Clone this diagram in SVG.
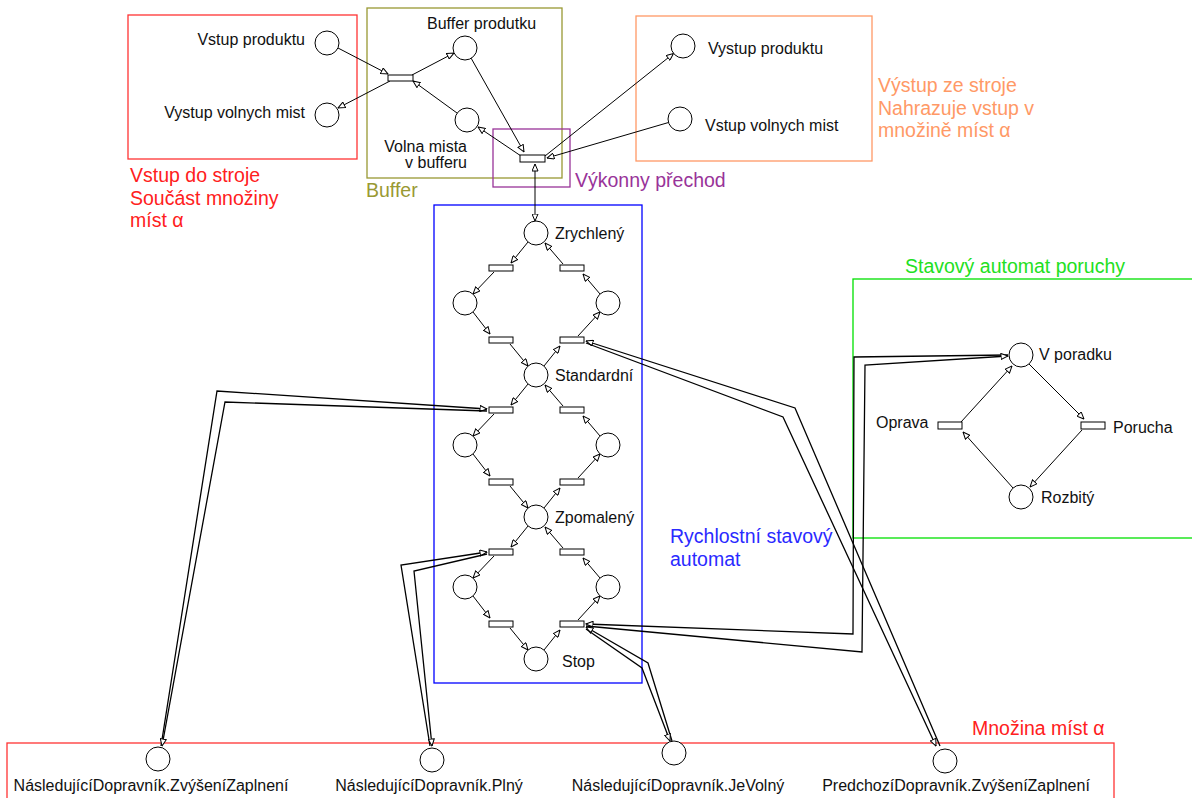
<svg xmlns="http://www.w3.org/2000/svg" width="1192" height="798" viewBox="0 0 1192 798">
<style>
text{font-family:"Liberation Sans",Arial,sans-serif;font-size:16px;fill:#111}
.big{font-size:19.5px}
.pl{fill:#fff;stroke:#000;stroke-width:1}
.tr{fill:#fff;stroke:#000;stroke-width:1}
.arc{fill:none;stroke:#000;stroke-width:1;marker-end:url(#ah)}
.dbl{fill:none;stroke:#000;stroke-width:1.3;marker-end:url(#ah)}
.fr{fill:none;stroke-width:1.3}
</style>
<defs>
<marker id="ah" viewBox="0 0 8 7" refX="7.5" refY="3.5" markerWidth="8" markerHeight="7" markerUnits="userSpaceOnUse" orient="auto-start-reverse">
<path d="M0.5,0.5 L7.5,3.5 L0.5,6.5 z" fill="#fff" stroke="#000" stroke-width="1"/>
</marker>
</defs>
<rect width="1192" height="798" fill="#fff"/>

<g id="frames">
<rect class="fr" x="128" y="15" width="229" height="144" stroke="#ff3333"/>
<text class="big" x="130" y="182" style="fill:#ff2020">Vstup do stroje</text>
<text class="big" x="130" y="204.5" style="fill:#ff2020">Součást množiny</text>
<text class="big" x="130" y="227" style="fill:#ff2020">míst α</text>
<rect class="fr" x="367" y="8" width="195" height="170" stroke="#999933"/>
<text class="big" x="366" y="197" style="fill:#999933">Buffer</text>
<rect class="fr" x="493" y="129" width="77" height="58" stroke="#993399"/>
<text class="big" x="575" y="187" style="fill:#993399">Výkonny přechod</text>
<rect class="fr" x="636" y="16" width="236" height="145" stroke="#ff9966"/>
<text class="big" x="878" y="92" style="fill:#ff9966">Výstup ze stroje</text>
<text class="big" x="878" y="115" style="fill:#ff9966">Nahrazuje vstup v</text>
<text class="big" x="878" y="137" style="fill:#ff9966">množině míst α</text>
<rect class="fr" x="434" y="205" width="208" height="478" stroke="#0000ff"/>
<text class="big" x="670" y="543" style="fill:#2a2aff">Rychlostní stavový</text>
<text class="big" x="670" y="566" style="fill:#2a2aff">automat</text>
<rect class="fr" x="853" y="279" width="400" height="259" stroke="#00e000"/>
<text class="big" x="905" y="273" style="fill:#22e022">Stavový automat poruchy</text>
<rect class="fr" x="7" y="743" width="1107" height="80" stroke="#ff3333"/>
<text class="big" x="972" y="735" style="fill:#ff2020">Množina míst α</text>
</g>

<g id="connectors">
<path class="arc" d="M338,48 L388,74"/>
<path class="arc" d="M390,81 L338,108"/>
<path class="arc" d="M412,75 L454,53"/>
<path class="arc" d="M457,113 L413,81"/>
<path class="arc" d="M471,58 L524,152"/>
<path class="arc" d="M521,156 L478,127"/>
<path class="arc" d="M545,156 L673.5,53.5"/>
<path class="arc" d="M668.5,122.5 L547,158"/>
<path class="arc" d="M535,164 L535,221" style="marker-start:url(#ah)"/>
<path class="arc" d="M528,242 L511,263"/>
<path class="arc" d="M494,272 L473,294"/>
<path class="arc" d="M473,312 L490,334"/>
<path class="arc" d="M510,344 L528,366"/>
<path class="arc" d="M544,366 L560,346"/>
<path class="arc" d="M578,336 L600,312"/>
<path class="arc" d="M600,294 L583,274"/>
<path class="arc" d="M563,264 L545,243"/>
<path class="arc" d="M528,384 L511,405"/>
<path class="arc" d="M494,414 L473,436"/>
<path class="arc" d="M473,454 L490,476"/>
<path class="arc" d="M510,486 L528,508"/>
<path class="arc" d="M544,508 L560,488"/>
<path class="arc" d="M578,478 L600,454"/>
<path class="arc" d="M600,436 L583,416"/>
<path class="arc" d="M563,406 L545,385"/>
<path class="arc" d="M528,526 L511,547"/>
<path class="arc" d="M494,556 L473,578"/>
<path class="arc" d="M473,596 L490,618"/>
<path class="arc" d="M510,628 L528,650"/>
<path class="arc" d="M544,650 L560,630"/>
<path class="arc" d="M578,620 L600,596"/>
<path class="arc" d="M600,578 L583,558"/>
<path class="arc" d="M563,548 L545,527"/>
<path class="arc" d="M1029,364 L1084,419"/>
<path class="arc" d="M1082,430 L1030,487"/>
<path class="arc" d="M1013,488 L963,432"/>
<path class="arc" d="M961,422 L1012,366"/>
<path class="dbl" d="M161,746 L217,391 L487,409"/>
<path class="dbl" d="M487,411 L225,402 L162,746"/>
<path class="dbl" d="M430,746 L401,565 L487,552"/>
<path class="dbl" d="M487,554 L414,571 L432,746"/>
<path class="dbl" d="M940,746 L795,408 L586,341"/>
<path class="dbl" d="M586,343 L783,417 L936,746"/>
<path class="dbl" d="M1008,355 L854,357 L853,634 L586,624"/>
<path class="dbl" d="M586,626 L862,652 L865,365 L1008,356"/>
<path class="dbl" d="M672,741 L648,663 L586,627"/>
<path class="dbl" d="M586,629 L642,668 L670,741"/>
</g>

<g id="in_vstup_produktu"><circle class="pl" cx="327" cy="43" r="12"/><text x="305" y="45" text-anchor="end">Vstup produktu</text></g>
<g id="in_vystup_volnych"><circle class="pl" cx="327" cy="115" r="12"/><text x="305" y="118" text-anchor="end">Vystup volnych mist</text></g>
<g id="t_buffer"><rect class="tr" x="388" y="75" width="25" height="6"/></g>
<g id="buffer_produktu"><circle class="pl" cx="465" cy="48" r="12"/><text x="427" y="29">Buffer produtku</text></g>
<g id="volna_mista"><circle class="pl" cx="467" cy="120" r="12"/><text x="467" y="152" text-anchor="end">Volna mista</text><text x="467" y="168" text-anchor="end">v bufferu</text></g>
<g id="t_vykonny"><rect class="tr" x="520" y="155" width="25" height="7"/></g>
<g id="out_vystup_produktu"><circle class="pl" cx="683" cy="46" r="12"/><text x="708" y="54">Vystup produktu</text></g>
<g id="out_vstup_volnych"><circle class="pl" cx="680" cy="119" r="12"/><text x="705" y="131">Vstup volnych mist</text></g>

<g id="zrychleny"><circle class="pl" cx="536" cy="233" r="12"/><text x="555" y="239">Zrychlený</text></g>
<g id="standardni"><circle class="pl" cx="536" cy="375" r="12"/><text x="555" y="381">Standardní</text></g>
<g id="zpomaleny"><circle class="pl" cx="536" cy="517" r="12"/><text x="555" y="523">Zpomalený</text></g>
<g id="stop"><circle class="pl" cx="536" cy="659" r="12"/><text x="562" y="667">Stop</text></g>

<g id="c1"><rect class="tr" x="489" y="265" width="24" height="6"/><rect class="tr" x="560" y="265" width="24" height="6"/><circle class="pl" cx="465" cy="303" r="12"/><circle class="pl" cx="608" cy="303" r="12"/><rect class="tr" x="489" y="337" width="24" height="6"/><rect class="tr" x="560" y="337" width="24" height="6"/></g>
<g id="c2"><rect class="tr" x="489" y="407" width="24" height="6"/><rect class="tr" x="560" y="407" width="24" height="6"/><circle class="pl" cx="465" cy="445" r="12"/><circle class="pl" cx="608" cy="445" r="12"/><rect class="tr" x="489" y="479" width="24" height="6"/><rect class="tr" x="560" y="479" width="24" height="6"/></g>
<g id="c3"><rect class="tr" x="489" y="549" width="24" height="6"/><rect class="tr" x="560" y="549" width="24" height="6"/><circle class="pl" cx="465" cy="587" r="12"/><circle class="pl" cx="608" cy="587" r="12"/><rect class="tr" x="489" y="621" width="24" height="6"/><rect class="tr" x="560" y="621" width="24" height="6"/></g>

<g id="v_poradku"><circle class="pl" cx="1021" cy="355" r="12"/><text x="1039" y="360">V poradku</text></g>
<g id="oprava"><rect class="tr" x="938" y="422" width="24" height="7"/><text x="876" y="428">Oprava</text></g>
<g id="porucha"><rect class="tr" x="1081" y="422" width="24" height="7"/><text x="1113" y="433">Porucha</text></g>
<g id="rozbity"><circle class="pl" cx="1021" cy="497" r="12"/><text x="1041" y="503">Rozbitý</text></g>

<g id="alpha1"><circle class="pl" cx="158" cy="759" r="12"/><text x="151" y="791" text-anchor="middle">NásledujícíDopravník.ZvýšeníZaplnení</text></g>
<g id="alpha2"><circle class="pl" cx="432" cy="760" r="12"/><text x="429" y="791" text-anchor="middle">NásledujícíDopravník.Plný</text></g>
<g id="alpha3"><circle class="pl" cx="674" cy="753" r="12"/><text x="678" y="791" text-anchor="middle">NásledujícíDopravník.JeVolný</text></g>
<g id="alpha4"><circle class="pl" cx="945" cy="761" r="12"/><text x="956" y="791" text-anchor="middle">PredchozíDopravník.ZvýšeníZaplnení</text></g>
</svg>
